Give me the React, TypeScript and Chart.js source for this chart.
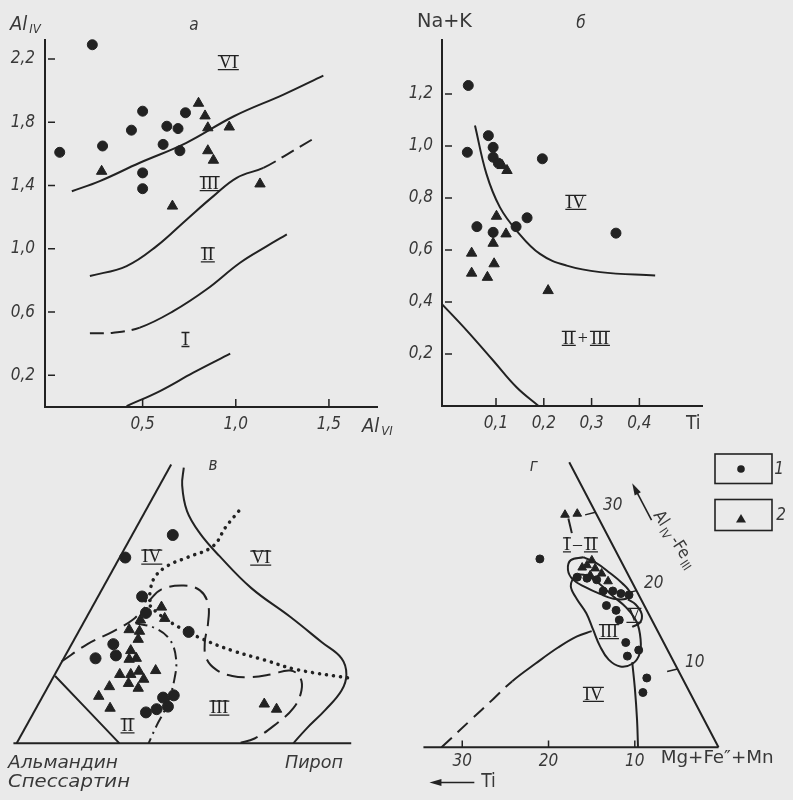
import React, { useEffect, useRef } from 'react';
import { Chart, registerables } from 'chart.js';

Chart.register(...registerables);

type P = [number, number];

const INK = '#222222';
const TEXT = '#383838';
const BG = '#eaeaea';
const FAM = "'DejaVu Sans Condensed', 'DejaVu Sans', sans-serif";
const IT = `italic 17px ${FAM}`;
const UP = `17px ${FAM}`;
const TITLE = `italic 20px ${FAM}`;
const TITLE_UP = `19px ${FAM}`;
const SUBF = `12px ${FAM}`;
const SUBT = `italic 13px ${FAM}`;
const ROMAN = "18px 'Liberation Serif', 'DejaVu Serif', serif";
const CYR = "italic 17px 'DejaVu Sans', sans-serif";

// ---------------- панель а ----------------
const aXTicks = [0.5, 1.0, 1.5];
const aYTicks = [0.2, 0.6, 1.0, 1.4, 1.8, 2.2];
const aCircles: P[] = [[0.055, 1.61], [0.23, 2.29], [0.285, 1.65], [0.44, 1.75], [0.5, 1.87], [0.5, 1.48], [0.5, 1.38], [0.61, 1.66], [0.63, 1.775], [0.69, 1.76], [0.7, 1.62], [0.73, 1.86]];
const aTriangles: P[] = [[0.28, 1.49], [0.66, 1.27], [0.8, 1.92], [0.835, 1.84], [0.85, 1.765], [0.85, 1.62], [0.88, 1.56], [0.965, 1.77], [1.13, 1.41]];
const aLine1: P[] = [[0.12, 1.364], [0.27, 1.428], [0.485, 1.544], [0.735, 1.67], [0.99, 1.838], [1.256, 1.975], [1.47, 2.095]];
const aLine2: P[] = [[0.217, 0.828], [0.414, 0.891], [0.575, 1.017], [0.737, 1.186], [0.88, 1.333], [1.005, 1.449], [1.148, 1.512], [1.274, 1.596], [1.41, 1.691]];
const aLine3: P[] = [[0.217, 0.466], [0.342, 0.47], [0.485, 0.502], [0.665, 0.606], [0.844, 0.744], [1.023, 0.912], [1.167, 1.017], [1.274, 1.091]];
const aLine4: P[] = [[0.414, 0.006], [0.593, 0.101], [0.772, 0.217], [0.97, 0.337]];
const aRegions = [{ parts: ['VI'], x: 0.96, y: 2.18 }, { parts: ['III'], x: 0.86, y: 1.415 }, { parts: ['II'], x: 0.85, y: 0.965 }, { parts: ['I'], x: 0.73, y: 0.43 }];

// ---------------- панель б ----------------
const bXTicks = [0.1, 0.2, 0.3, 0.4];
const bYTicks = [0.2, 0.4, 0.6, 0.8, 1.0, 1.2];
const bCircles: P[] = [[0.042, 1.233], [0.04, 0.976], [0.084, 1.04], [0.094, 0.995], [0.094, 0.957], [0.105, 0.934], [0.06, 0.69], [0.094, 0.668], [0.142, 0.69], [0.165, 0.724], [0.197, 0.951], [0.351, 0.665]];
const bTriangles: P[] = [[0.101, 0.73], [0.094, 0.626], [0.121, 0.662], [0.049, 0.588], [0.049, 0.511], [0.096, 0.547], [0.082, 0.495], [0.209, 0.444], [0.113, 0.925], [0.123, 0.906]];
const bLineUpper: P[] = [[0.056, 1.079], [0.08, 0.893], [0.108, 0.765], [0.143, 0.675], [0.192, 0.585], [0.248, 0.54], [0.318, 0.515], [0.433, 0.502]];
const bLineLower: P[] = [[-0.0136, 0.393], [0.039, 0.29], [0.094, 0.175], [0.143, 0.072], [0.189, 0.0]];
const bRegions = [{ parts: ['IV'], x: 0.267, y: 0.785 }, { parts: ['II', '+', 'III'], x: 0.288, y: 0.262 }];

// ---------------- панель в (треугольная диаграмма) ----------------
const vEdge: P[] = [[0, 0], [47.8, 86.6]];
const vBase: P[] = [[-1, 0], [103.5, 0]];
const vLineII: P[] = [[11.9, 20.9], [31.8, 0]];
const vRightCurve: P[] = [[51.7, 85.6], [51.2, 80.1], [52.7, 72.1], [56.7, 65.2], [62.7, 58.2], [72.6, 48.2], [84.6, 39.3], [94.5, 31.3], [100.5, 26.4], [102.0, 21.4], [100.5, 16.4], [95.5, 10.4], [89.6, 4.5], [85.6, 0]];
const vDotted1: P[] = [[68.7, 72.1], [64.7, 67.2], [60.7, 61.2], [52.7, 57.7], [46.8, 55.2], [42.8, 51.7], [41.3, 47.3], [41.3, 43.3]];
const vDotted2: P[] = [[39.8, 44.3], [43.8, 40.3], [49.8, 36.3], [57.7, 32.3], [66.7, 28.8], [76.6, 25.9], [86.6, 22.9], [103.5, 20.2]];
const vLoop: P[] = [[40.8, 44.1], [44.8, 47.8], [51.7, 49.0], [56.7, 47.5], [59.2, 43.3], [59.2, 37.3], [58.2, 31.3], [58.7, 26.4], [61.7, 22.9], [66.7, 20.9], [72.6, 20.6], [78.6, 21.4], [84.6, 22.6], [87.6, 20.6], [88.1, 16.4], [85.6, 10.9], [79.6, 5.5], [73.6, 1.5], [68.7, 0]];
const vLeftDash: P[] = [[13.9, 25.4], [21.9, 30.8], [29.9, 34.8], [35.8, 38.3], [39.8, 42.3]];
const vDashDot: P[] = [[36.8, 37.3], [42.8, 35.8], [47.3, 32.3], [49.3, 26.4], [48.7, 19.4], [46.3, 11.4], [43.3, 5.5], [40.8, 0]];
const vCircles: P[] = [[48.3, 64.7], [33.6, 57.7], [38.8, 45.6], [40.0, 40.5], [29.9, 30.8], [24.4, 26.4], [30.7, 27.3], [53.2, 34.6], [45.3, 14.2], [48.6, 14.9], [46.8, 11.4], [43.3, 10.6], [40.0, 9.6]];
const vTriangles: P[] = [[44.8, 42.3], [45.8, 38.8], [38.3, 38.3], [34.8, 35.3], [38.0, 34.8], [37.6, 32.3], [35.3, 28.8], [37.0, 26.4], [34.8, 26.1], [31.9, 21.4], [35.3, 21.4], [37.8, 22.4], [39.3, 19.9], [34.6, 18.6], [37.6, 17.1], [28.7, 17.6], [25.4, 14.6], [28.9, 10.9], [43.0, 22.6], [76.6, 12.2], [80.4, 10.6]];
const vRegions = [{ parts: ['IV'], x: 41.8, y: 58.0 }, { parts: ['VI'], x: 75.5, y: 57.7 }, { parts: ['III'], x: 62.7, y: 11.1 }, { parts: ['II'], x: 34.3, y: 5.6 }];

// ---------------- панель г ----------------
const gBaseTicks = [10, 20, 30];
const gEdgeTicks = [10, 20, 30];
const gEdgeFull = 36.4;
const gEdge: P[] = [[17.6, 33.15], [0.3, 0]];
const gBase: P[] = [[34.5, 0], [0.3, 0]];
const gCurve: P[] = [[32.4, 0], [29.0, 3.19], [26.4, 5.62], [24.2, 7.69], [21.5, 9.74], [18.9, 11.6], [16.7, 12.9], [15.0, 13.5]];
const gStem: P[] = [[10.3, 9.9], [10.0, 6.93], [9.74, 3.19], [9.63, 0]];
const gOvalA: P[] = [[15.96, 22.1], [14.49, 21.43], [12.92, 20.3], [11.46, 19.07], [10.56, 17.94], [11.01, 17.27], [12.47, 17.27], [14.04, 17.83], [15.73, 18.62], [17.19, 19.52], [17.75, 20.64], [17.42, 21.76], [15.96, 22.1]];
const gOvalB: P[] = [[16.97, 20.08], [15.62, 19.97], [14.04, 18.96], [12.58, 17.61], [11.01, 16.26], [9.78, 14.57], [9.33, 12.55], [9.44, 10.87], [10.22, 9.74], [11.69, 9.4], [13.03, 10.19], [14.04, 11.76], [14.83, 13.67], [15.62, 15.58], [16.74, 17.27], [17.42, 18.73], [16.97, 20.08]];
const gBracket: P[] = [[10.8, 17.2], [9.9, 16.6], [9.2, 15.5], [9.4, 14.5], [10.3, 14.0]];
const gStalk: P[] = [[17.7, 26.6], [17.3, 24.9]];
const gCircles: P[] = [[21.0, 21.9], [16.67, 19.78], [15.54, 19.66], [14.42, 19.48], [13.67, 18.17], [12.55, 18.17], [11.61, 17.87], [10.67, 17.72], [13.29, 16.48], [12.17, 15.92], [11.8, 14.8], [11.05, 12.18], [9.55, 11.3], [10.86, 10.6], [8.61, 8.06], [9.06, 6.37]];
const gTriangles: P[] = [[18.09, 27.04], [16.67, 27.16], [14.98, 21.73], [16.1, 20.9], [14.6, 20.8], [13.85, 20.2], [15.17, 20.0], [13.1, 19.3], [15.54, 21.17]];
const gRegions = [{ parts: ['I', '–', 'II'], x: 16.3, y: 23.6 }, { parts: ['V'], x: 10.1, y: 15.4 }, { parts: ['III'], x: 13.0, y: 13.5 }, { parts: ['IV'], x: 14.8, y: 6.2 }];

// ---------------- helpers ----------------
const pts = (arr: P[]) => arr.map(([x, y]) => ({ x, y }));
const fmt = (v: number) => v.toFixed(1).replace('.', ',');

function markerDs(arr: P[], style: string, r: number) {
  return {
    data: pts(arr), showLine: false, clip: false,
    pointStyle: style, pointRadius: r, pointHoverRadius: r,
    pointBackgroundColor: INK, pointBorderColor: INK, pointBorderWidth: 1,
    backgroundColor: INK, borderColor: INK,
  };
}

function lineDs(arr: P[], o: { dash?: number[]; dashFrom?: number; dashUntil?: number; width?: number; cap?: string; tension?: number } = {}) {
  const ds: any = {
    data: pts(arr), showLine: true, clip: false, pointRadius: 0, pointHoverRadius: 0,
    borderColor: INK, borderWidth: o.width ?? 2, tension: o.tension ?? 0.4, fill: false,
    borderCapStyle: o.cap ?? 'butt', borderJoinStyle: 'round',
  };
  if (o.dashFrom !== undefined || o.dashUntil !== undefined) {
    const d = o.dash ?? [14, 7];
    ds.segment = {
      borderDash: (c: any) => {
        const i = c.p0DataIndex;
        if (o.dashFrom !== undefined && i >= o.dashFrom) return d;
        if (o.dashUntil !== undefined && i < o.dashUntil) return d;
        return undefined;
      },
    };
  } else if (o.dash) ds.borderDash = o.dash;
  return ds;
}

function axisX(min: number, max: number, ticks: number[], h: number, pad: number) {
  return {
    type: 'linear', position: 'bottom', min, max,
    afterBuildTicks: (s: any) => { s.ticks = ticks.map((v) => ({ value: v })); },
    afterFit: (s: any) => { s.height = h; },
    grid: { display: false, drawTicks: false },
    border: { display: true, color: INK, width: 2 },
    ticks: { autoSkip: false, maxRotation: 0, padding: pad, color: TEXT, font: { family: FAM, size: 17, style: 'italic' }, callback: (v: any) => fmt(Number(v)) },
  };
}

function axisY(min: number, max: number, ticks: number[], w: number, pad: number) {
  return {
    type: 'linear', position: 'left', min, max,
    afterBuildTicks: (s: any) => { s.ticks = ticks.map((v) => ({ value: v })); },
    afterFit: (s: any) => { s.width = w; },
    grid: { display: false, drawTicks: false },
    border: { display: true, color: INK, width: 2 },
    ticks: { autoSkip: false, padding: pad, color: TEXT, font: { family: FAM, size: 17, style: 'italic' }, callback: (v: any) => fmt(Number(v)) },
  };
}

function hiddenAxis(min: number, max: number, reverse = false) {
  return { type: 'linear', display: false, min, max, reverse };
}

function txt(ctx: CanvasRenderingContext2D, s: string, x: number, y: number, font: string, align: CanvasTextAlign = 'center', baseline: CanvasTextBaseline = 'middle', targetW?: number) {
  ctx.save();
  ctx.font = font; ctx.fillStyle = TEXT; ctx.textAlign = align; ctx.textBaseline = baseline;
  ctx.translate(x, y);
  if (targetW) { const w = ctx.measureText(s).width; ctx.scale(targetW / w, 1); }
  ctx.fillText(s, 0, 0);
  ctx.restore();
}

function subTxt(ctx: CanvasRenderingContext2D, main: string, sub: string, x: number, y: number) {
  ctx.save();
  ctx.fillStyle = TEXT; ctx.textAlign = 'left'; ctx.textBaseline = 'alphabetic';
  ctx.font = TITLE; ctx.fillText(main, x, y);
  const w = ctx.measureText(main).width;
  ctx.font = SUBT; ctx.fillText(sub, x + w + 2, y + 3);
  ctx.restore();
}

function roman(ctx: CanvasRenderingContext2D, parts: string[], cx: number, cy: number) {
  ctx.save();
  ctx.font = ROMAN; ctx.fillStyle = INK; ctx.strokeStyle = INK; ctx.lineWidth = 1.3;
  ctx.textBaseline = 'middle'; ctx.textAlign = 'left';
  const gap = 3;
  const ws = parts.map((p) => ctx.measureText(p).width);
  const total = ws.reduce((a, b) => a + b, 0) + gap * (parts.length - 1);
  let x = cx - total / 2;
  parts.forEach((p, i) => {
    ctx.fillText(p, x, cy + 1);
    if (/^[IVX]+$/.test(p)) {
      ctx.beginPath();
      ctx.moveTo(x - 1, cy - 6.5); ctx.lineTo(x + ws[i] + 1, cy - 6.5);
      ctx.moveTo(x - 1, cy + 7.5); ctx.lineTo(x + ws[i] + 1, cy + 7.5);
      ctx.stroke();
    }
    x += ws[i] + gap;
  });
  ctx.restore();
}

function arrow(ctx: CanvasRenderingContext2D, x1: number, y1: number, x2: number, y2: number) {
  const a = Math.atan2(y2 - y1, x2 - x1);
  ctx.save();
  ctx.strokeStyle = INK; ctx.fillStyle = INK; ctx.lineWidth = 1.6;
  ctx.beginPath(); ctx.moveTo(x1, y1); ctx.lineTo(x2 - 8 * Math.cos(a), y2 - 8 * Math.sin(a)); ctx.stroke();
  ctx.beginPath();
  ctx.moveTo(x2, y2);
  ctx.lineTo(x2 - 12 * Math.cos(a) + 3.5 * Math.sin(a), y2 - 12 * Math.sin(a) - 3.5 * Math.cos(a));
  ctx.lineTo(x2 - 12 * Math.cos(a) - 3.5 * Math.sin(a), y2 - 12 * Math.sin(a) + 3.5 * Math.cos(a));
  ctx.closePath(); ctx.fill();
  ctx.restore();
}

function innerTicks(ctx: CanvasRenderingContext2D, ch: any) {
  const { x, y } = ch.scales; const area = ch.chartArea;
  ctx.save(); ctx.strokeStyle = INK; ctx.lineWidth = 1.5; ctx.beginPath();
  x.ticks.forEach((t: any) => { const p = x.getPixelForValue(t.value); ctx.moveTo(p, area.bottom - 1); ctx.lineTo(p, area.bottom - 8); });
  y.ticks.forEach((t: any) => { const p = y.getPixelForValue(t.value); ctx.moveTo(area.left + 3, p); ctx.lineTo(area.left + 10, p); });
  ctx.stroke(); ctx.restore();
}

function drawRegions(ctx: CanvasRenderingContext2D, ch: any, regs: { parts: string[]; x: number; y: number }[]) {
  const { x, y } = ch.scales;
  regs.forEach((r) => roman(ctx, r.parts, x.getPixelForValue(r.x), y.getPixelForValue(r.y)));
}

const common = {
  responsive: false, animation: false, devicePixelRatio: 1, events: [],
  plugins: { legend: { display: false }, tooltip: { enabled: false } },
};

const deco = (fn: (ctx: CanvasRenderingContext2D, ch: any) => void) => ({ id: 'deco', afterDraw: (ch: any) => fn(ch.ctx, ch) });

// ---------------- chart configs ----------------
function makeA(): any {
  return {
    type: 'scatter',
    data: { datasets: [lineDs(aLine1), lineDs(aLine2, { dashFrom: 6 }), lineDs(aLine3, { dashUntil: 2 }), lineDs(aLine4), markerDs(aCircles, 'circle', 5), markerDs(aTriangles, 'triangle', 6)] },
    options: { ...common, layout: { padding: { top: 40, right: 23, left: 0, bottom: 0 } }, scales: { x: axisX(-0.024, 1.758, aXTicks, 33, 7), y: axisY(0, 2.32, aYTicks, 45, 10) } },
    plugins: [deco((ctx, ch) => {
      innerTicks(ctx, ch);
      drawRegions(ctx, ch, aRegions);
      subTxt(ctx, 'Al', 'IV', 10, 30);
      subTxt(ctx, 'Al', 'VI', 362, 432);
      txt(ctx, 'а', 194, 30, IT, 'center', 'alphabetic');
    })],
  };
}

function makeB(): any {
  return {
    type: 'scatter',
    data: { datasets: [lineDs(bLineUpper), lineDs(bLineLower), markerDs(bCircles, 'circle', 5), markerDs(bTriangles, 'triangle', 6)] },
    options: { ...common, layout: { padding: { top: 40, right: 91, left: 0, bottom: 0 } }, scales: { x: axisX(-0.013, 0.531, bXTicks, 34, 7), y: axisY(0, 1.408, bYTicks, 42, 9) } },
    plugins: [deco((ctx, ch) => {
      innerTicks(ctx, ch);
      drawRegions(ctx, ch, bRegions);
      txt(ctx, 'Na+K', 17, 27, TITLE_UP, 'left', 'alphabetic', 55);
      txt(ctx, 'б', 181, 28, IT, 'center', 'alphabetic');
      txt(ctx, 'Ti', 286, 429, TITLE_UP, 'left', 'alphabetic');
    })],
  };
}

function makeV(): any {
  return {
    type: 'scatter',
    data: {
      datasets: [
        lineDs(vEdge), lineDs(vBase), lineDs(vLineII), lineDs(vRightCurve),
        lineDs(vDotted1, { dash: [0.1, 7], width: 3.5, cap: 'round' }),
        lineDs(vDotted2, { dash: [0.1, 7], width: 3.5, cap: 'round' }),
        lineDs(vLoop, { dash: [18, 8] }),
        lineDs(vLeftDash, { dash: [16, 8] }),
        lineDs(vDashDot, { dash: [12, 5, 2, 5] }),
        markerDs(vCircles, 'circle', 5.5), markerDs(vTriangles, 'triangle', 6),
      ],
    },
    options: { ...common, layout: { padding: 0 }, scales: { x: hiddenAxis(-2.985, 116.42), y: hiddenAxis(-15.43, 92.03) } },
    plugins: [deco((ctx, ch) => {
      drawRegions(ctx, ch, vRegions);
      txt(ctx, 'в', 213, 30, IT, 'center', 'alphabetic');
      txt(ctx, 'Альмандин', 8, 328, CYR, 'left', 'alphabetic', 110);
      txt(ctx, 'Спессартин', 8, 347, CYR, 'left', 'alphabetic', 122);
      txt(ctx, 'Пироп', 285, 328, CYR, 'left', 'alphabetic', 58);
    })],
  };
}

function makeG(): any {
  return {
    type: 'scatter',
    data: {
      datasets: [
        lineDs(gEdge), lineDs(gBase),
        lineDs(gCurve, { dashUntil: 3, dash: [14, 8] }),
        lineDs(gStem), lineDs(gOvalA), lineDs(gOvalB), lineDs(gBracket), lineDs(gStalk),
        markerDs(gCircles, 'circle', 4), markerDs(gTriangles, 'triangle', 5),
      ],
    },
    options: { ...common, layout: { padding: 0 }, scales: { x: hiddenAxis(-7.64, 36.52, true), y: hiddenAxis(-5.43, 35.03) } },
    plugins: [deco((ctx, ch) => {
      const { x, y } = ch.scales;
      const X = (u: number) => x.getPixelForValue(u);
      const Y = (v: number) => y.getPixelForValue(v);
      drawRegions(ctx, ch, gRegions);
      ctx.save(); ctx.strokeStyle = INK; ctx.lineWidth = 1.5; ctx.beginPath();
      gBaseTicks.forEach((t) => { ctx.moveTo(X(t), Y(0)); ctx.lineTo(X(t), Y(0.8)); });
      const [top, bot] = gEdge;
      gEdgeTicks.forEach((t) => {
        const f = t / gEdgeFull;
        const u = bot[0] + (top[0] - bot[0]) * f; const v = bot[1] + (top[1] - bot[1]) * f;
        ctx.moveTo(X(u), Y(v)); ctx.lineTo(X(u + 1.2), Y(v - 0.3));
      });
      ctx.stroke(); ctx.restore();
      gBaseTicks.forEach((t) => txt(ctx, String(t), X(t), Y(-1.7), IT));
      gEdgeTicks.forEach((t) => {
        const f = t / gEdgeFull;
        const u = bot[0] + (top[0] - bot[0]) * f; const v = bot[1] + (top[1] - bot[1]) * f;
        txt(ctx, String(t), X(u - 2.0), Y(v + 0.8), IT);
      });
      txt(ctx, 'г', X(21.7), Y(32.6), IT);
      txt(ctx, 'Mg+Fe\u2033+Mn', X(7.0), Y(-1.3), UP, 'left', 'middle', 113);
      arrow(ctx, X(28.6), Y(-4.1), X(33.8), Y(-4.1));
      txt(ctx, 'Ti', X(27.8), Y(-4.1), TITLE_UP, 'left', 'middle');
      arrow(ctx, X(8.06), Y(26.4), X(10.3), Y(30.7));
      // rotated axis caption
      ctx.save();
      ctx.translate(X(7.9), Y(27.0));
      ctx.rotate((57 * Math.PI) / 180);
      ctx.fillStyle = TEXT; ctx.textBaseline = 'alphabetic'; ctx.textAlign = 'left';
      let cx = 0;
      ctx.font = UP; ctx.fillText('Al', cx, 0); cx += ctx.measureText('Al').width + 2;
      ctx.font = SUBF; ctx.fillText('IV', cx, 4); cx += ctx.measureText('IV').width + 3;
      ctx.font = UP; ctx.fillText('-Fe', cx, 0); cx += ctx.measureText('-Fe').width + 2;
      ctx.font = SUBF; ctx.fillText('III', cx, 4);
      ctx.restore();
      // legend (layout, canvas pixels)
      ctx.save();
      ctx.strokeStyle = INK; ctx.fillStyle = INK; ctx.lineWidth = 1.6;
      ctx.strokeRect(315, 14, 57, 29.5);
      ctx.strokeRect(315, 59.5, 57, 31);
      ctx.beginPath(); ctx.arc(341, 29, 3.8, 0, Math.PI * 2); ctx.fill();
      ctx.beginPath(); ctx.moveTo(341, 74); ctx.lineTo(346, 82.5); ctx.lineTo(336, 82.5); ctx.closePath(); ctx.fill();
      ctx.restore();
      txt(ctx, '1', 379, 30, IT);
      txt(ctx, '2', 381, 76, IT);
    })],
  };
}

function Panel({ left, top, width, height, make }: { left: number; top: number; width: number; height: number; make: () => any }) {
  const ref = useRef<HTMLCanvasElement>(null);
  useEffect(() => {
    const c = new Chart(ref.current as HTMLCanvasElement, make());
    return () => c.destroy();
  }, []);
  return <canvas ref={ref} width={width} height={height} style={{ position: 'absolute', left, top, width, height }} />;
}

export default function App() {
  return (
    <div style={{ position: 'absolute', left: 0, top: 0, width: 793, height: 800, background: BG, overflow: 'hidden' }}>
      <Panel left={0} top={0} width={400} height={440} make={makeA} />
      <Panel left={400} top={0} width={393} height={440} make={makeB} />
      <Panel left={0} top={440} width={400} height={360} make={makeV} />
      <Panel left={400} top={440} width={393} height={360} make={makeG} />
    </div>
  );
}
